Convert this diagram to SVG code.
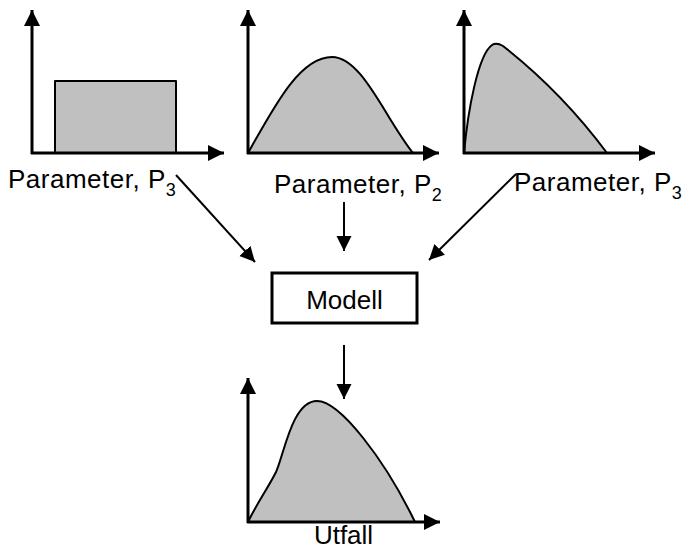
<svg xmlns="http://www.w3.org/2000/svg" width="682" height="550" viewBox="0 0 682 550">
<defs>
<style>
.axis{stroke:#000;stroke-width:3;fill:none}
.area{fill:#c0c0c0;stroke:#000;stroke-width:2;stroke-linejoin:round}
.conn{stroke:#000;stroke-width:2;fill:none}
.lbl{font-family:"Liberation Sans",Arial,sans-serif;font-size:26px;fill:#000}
.par{letter-spacing:0.5px}
.sub{font-size:18px}
</style>
<marker id="ah" markerUnits="userSpaceOnUse" markerWidth="16" markerHeight="16" refX="16" refY="8" orient="auto">
<path d="M0,0 L16,8 L0,16 z" fill="#000"/>
</marker>
<marker id="ch" markerUnits="userSpaceOnUse" markerWidth="15" markerHeight="16" refX="15" refY="8" orient="auto">
<path d="M0,0.5 L15,8 L0,15.5 z" fill="#000"/>
</marker>
</defs>
<rect width="682" height="550" fill="#fff"/>
<g id="plot1">
<rect class="area" x="55" y="81" width="121" height="72" stroke-linejoin="miter"/>
<line class="axis" x1="32" y1="154" x2="32" y2="10" marker-end="url(#ah)"/>
<line class="axis" x1="31" y1="153" x2="224" y2="153" marker-end="url(#ah)"/>
<text class="lbl par" x="8" y="188">Parameter, P<tspan class="sub" dy="8">3</tspan></text>
</g>
<g id="plot2">
<path class="area" d="M248,153 C275,105 300,57 332,57 C362,57 385,118 413,153 Z"/>
<line class="axis" x1="248" y1="154" x2="248" y2="10" marker-end="url(#ah)"/>
<line class="axis" x1="247" y1="153" x2="439" y2="153" marker-end="url(#ah)"/>
<text class="lbl par" x="274" y="193">Parameter, P<tspan class="sub" dy="8">2</tspan></text>
</g>
<g id="plot3">
<path class="area" d="M464,153 C468,110 478,55 492,45 C495,43 498,43 503,46 C540,75 575,110 607,153 Z"/>
<line class="axis" x1="464" y1="154" x2="464" y2="10" marker-end="url(#ah)"/>
<line class="axis" x1="463" y1="153" x2="655" y2="153" marker-end="url(#ah)"/>
<text class="lbl par" x="514" y="191">Parameter, P<tspan class="sub" dy="8">3</tspan></text>
</g>
<g id="modell">
<rect x="272" y="273" width="145" height="50" fill="#fff" stroke="#000" stroke-width="3"/>
<text class="lbl" x="344.5" y="309" text-anchor="middle" font-size="26">Modell</text>
</g>
<g id="utfall">
<path class="area" d="M248,522 C256,505 268,488 276,472 C284,455 292,401 317,401 C340,401 385,460 415,522 Z"/>
<line class="axis" x1="248" y1="523" x2="248" y2="378" marker-end="url(#ah)"/>
<line class="axis" x1="247" y1="522" x2="440" y2="522" marker-end="url(#ah)"/>
<text class="lbl" x="343.5" y="544" text-anchor="middle" font-size="24">Utfall</text>
</g>
<g id="connectors">
<line class="conn" x1="176" y1="175" x2="255" y2="262" marker-end="url(#ch)"/>
<line class="conn" x1="344" y1="202" x2="344" y2="251" marker-end="url(#ch)"/>
<line class="conn" x1="516" y1="174" x2="429" y2="260" marker-end="url(#ch)"/>
<line class="conn" x1="344" y1="345" x2="344" y2="399" marker-end="url(#ch)"/>
</g>
</svg>
